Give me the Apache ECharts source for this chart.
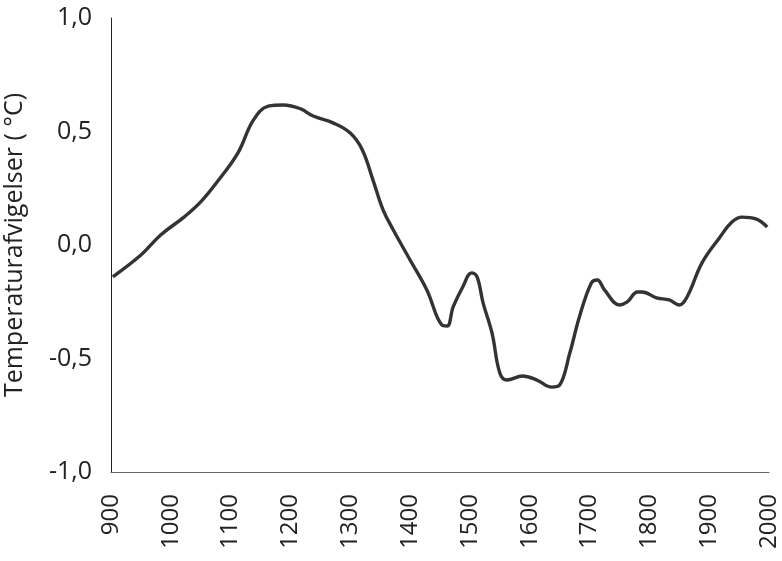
<!DOCTYPE html>
<html>
<head>
    <meta charset="utf-8">
    <title>Temperaturafvigelser</title>
    <style>
        html, body { margin: 0; padding: 0; background: #fff; }
        #chart { width: 782px; height: 561px; }
    </style>
</head>
<body>
    <div id="chart"></div>
    <script src="https://cdn.jsdelivr.net/npm/echarts@6/dist/echarts.min.js"></script>
    <script>
// år og afvigelse
var years = [903, 950, 983, 1022, 1050, 1078, 1112, 1138, 1163, 1188, 1217, 1238, 1272, 1300, 1320,
  1338, 1355, 1372, 1400, 1428, 1453, 1462, 1472, 1488, 1503, 1512, 1522, 1537, 1550, 1562,
  1588, 1612, 1637, 1650, 1667, 1683, 1703, 1713, 1725, 1750, 1763, 1780, 1788, 1812, 1833,
  1850, 1863, 1888, 1917, 1938, 1955, 1978, 1997];
var values = [-0.14, -0.044, 0.044, 0.123, 0.19, 0.28, 0.405, 0.55, 0.612, 0.617, 0.6, 0.568, 0.537, 0.493, 0.42,
  0.286, 0.154, 0.066, -0.066, -0.198, -0.352, -0.357, -0.273, -0.185, -0.123, -0.14, -0.255, -0.388, -0.564, -0.595,
  -0.577, -0.595, -0.626, -0.617, -0.476, -0.317, -0.167, -0.154, -0.198, -0.264, -0.251, -0.207, -0.207, -0.233, -0.242,
  -0.264, -0.229, -0.079, 0.031, 0.101, 0.123, 0.115, 0.079];

var seriesData = years.map(function (y, i) { return [y, values[i]]; });

var chart = echarts.init(document.getElementById('chart'));
var font = '"Open Sans", "Noto Sans", sans-serif';

var option = {
  backgroundColor: '#fff',
  animation: false,
  grid: { left: 111, right: 13, top: 18, bottom: 89, outerBoundsMode: 'none', containLabel: false },
  xAxis: {
    type: 'value',
    min: 900,
    max: 2000,
    interval: 100,
    axisLine: { onZero: false, lineStyle: { color: '#666', width: 1 } },
    axisTick: { show: false },
    splitLine: { show: false },
    axisLabel: {
      rotate: 90,
      margin: 22,
      fontSize: 24,
      fontFamily: font,
      color: '#222',
      formatter: function (v) { return String(v); }
    }
  },
  yAxis: {
    type: 'value',
    min: -1,
    max: 1,
    interval: 0.5,
    name: 'Temperaturafvigelser ( °C)',
    nameLocation: 'middle',
    nameGap: 84,
    nameTextStyle: { fontSize: 25, fontFamily: font, color: '#222' },
    axisLine: { show: true, onZero: false, lineStyle: { color: '#222', width: 1 } },
    axisTick: { show: false },
    splitLine: { show: false },
    axisLabel: {
      margin: 19,
      fontSize: 25,
      fontFamily: font,
      color: '#222',
      formatter: function (v) { return v.toFixed(1).replace('.', ','); }
    }
  },
  series: [{
    type: 'line',
    data: seriesData,
    smooth: 0.4,
    showSymbol: false,
    lineStyle: { color: '#333', width: 3.4 }
  }]
};

chart.setOption(option);
    </script>
</body>
</html>
